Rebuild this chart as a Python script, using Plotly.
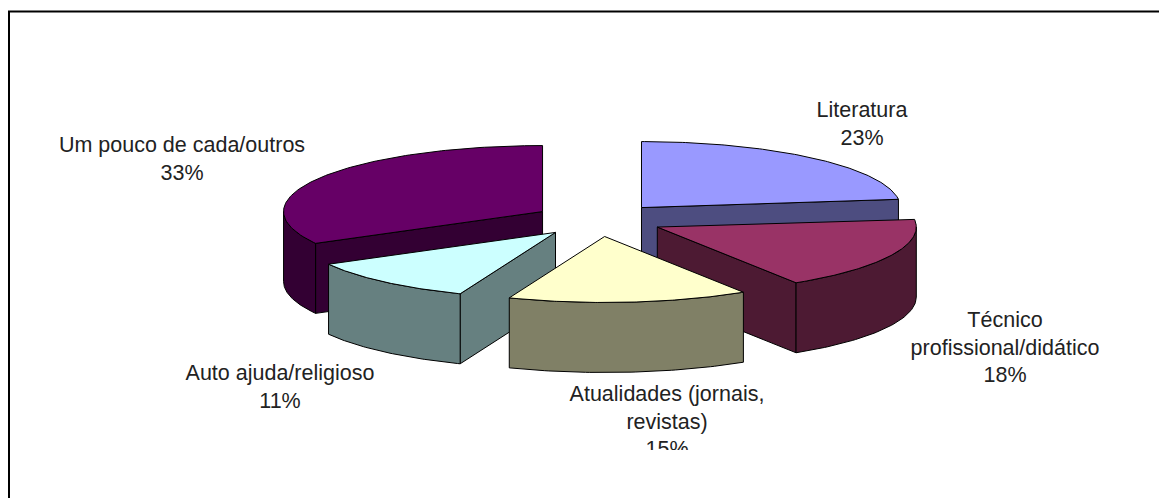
import numpy as np
import plotly.graph_objects as go

categories = ["Literatura", "Técnico profissional/didático", "Atualidades (jornais, revistas)",
              "Auto ajuda/religioso", "Um pouco de cada/outros"]
values = [23, 18, 15, 11, 33]
label_lines = [["Literatura", "23%"], ["Técnico", "profissional/didático", "18%"],
               ["Atualidades (jornais,", "revistas)", "15%"], ["Auto ajuda/religioso", "11%"],
               ["Um pouco de cada/outros", "33%"]]
top_colors = ["#9999FF", "#993366", "#FFFFCC", "#CCFFFF", "#660066"]
side_colors = ["#4D4D80", "#4D1A33", "#808066", "#668080", "#330033"]
label_x = [862, 1005, 667, 280, 182]
label_y = [112, 322, 396, 375, 147]
draw_order = [0, 4, 1, 3, 2]

CX, CY, A, B, DEPTH, EXPLODE = 598.5, 220, 259, 66, 70, 65

fractions = np.array(values) / sum(values)
edges = np.concatenate([[0], np.cumsum(fractions)]) * 2 * np.pi


def project(r, th, ox, oy):
    return ox + r * A * np.sin(th), oy - r * B * np.cos(th)


fig = go.Figure()


def poly(x, y, color):
    fig.add_trace(go.Scatter(x=list(x) + [x[0]], y=list(y) + [y[0]], mode="lines", fill="toself",
                             fillcolor=color, line=dict(color="black", width=1),
                             hoverinfo="skip", showlegend=False))


for i in draw_order:
    t0, t1 = edges[i], edges[i + 1]
    mid = (t0 + t1) / 2
    ox, oy = project(EXPLODE / A, mid, CX, CY)
    # only the cut faces turned towards the viewer
    for t, visible in ((t0, np.sin(t0) < -1e-9), (t1, np.sin(t1) > 1e-9)):
        if visible:
            rx, ry = project(1, t, ox, oy)
            poly([ox, rx, rx, ox], [oy, ry, ry + DEPTH, oy + DEPTH], side_colors[i])
    lo, hi = max(t0, np.pi / 2), min(t1, 3 * np.pi / 2)
    if hi > lo:
        th = np.linspace(lo, hi, 60)
        wx, wy = project(1, th, ox, oy)
        poly(np.r_[wx, wx[::-1]], np.r_[wy, wy[::-1] + DEPTH], side_colors[i])
    th = np.linspace(t0, t1, 120)
    rx, ry = project(1, th, ox, oy)
    poly(np.r_[ox, rx], np.r_[oy, ry], top_colors[i])

for lines, lx, ly in zip(label_lines, label_x, label_y):
    for j, line in enumerate(lines):
        fig.add_trace(go.Scatter(x=[lx], y=[ly + j * 27.2], mode="text", text=[line],
                                 textposition="middle center",
                                 textfont=dict(family="Liberation Sans", size=21.5, color="#222222"),
                                 cliponaxis=False, hoverinfo="skip", showlegend=False))

fig.update_layout(
    width=1159, height=498, margin=dict(l=0, r=0, t=0, b=0), paper_bgcolor="white", plot_bgcolor="white",
    xaxis=dict(range=[0, 1159], visible=False, fixedrange=True),
    yaxis=dict(range=[498, 0], visible=False, fixedrange=True),
    shapes=[
        dict(type="rect", layer="above", x0=500, x1=800, y0=450, y1=480, fillcolor="white", line_width=0),
        dict(type="line", layer="above", x0=8, x1=1159, y0=11.5, y1=11.5, line=dict(color="black", width=2)),
        dict(type="line", layer="above", x0=9, x1=9, y0=11, y1=498, line=dict(color="black", width=2)),
    ],
)
fig.write_html("out.html", config={"displayModeBar": False},
               post_script="document.body.style.margin='0';document.body.style.overflow='hidden';")
